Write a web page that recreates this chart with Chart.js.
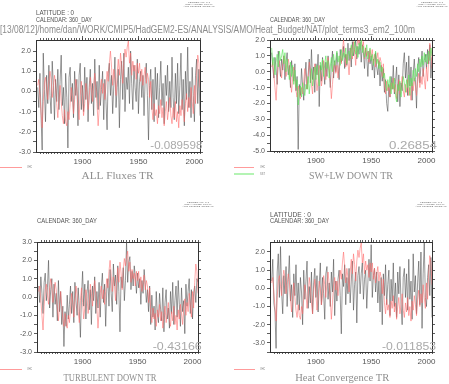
<!DOCTYPE html>
<html>
<head>
<meta charset="utf-8">
<script src="https://cdn.jsdelivr.net/npm/chart.js@4/dist/chart.umd.min.js"></script>
<style>
html, body { margin: 0; padding: 0; background: #fff; }
#page { position: relative; width: 449px; height: 384px; overflow: hidden; }
#page canvas { position: absolute; }
#overlay { left: 0; top: 0; z-index: 2; }
</style>
</head>
<body>
<div id="page"><canvas id="overlay" width="449" height="384"></canvas></div>
<script>
// annual values 1860..2005
const years = Array.from({ length: 146 }, (_, i) => 1860 + i);
const xTickYears = [1900, 1950, 2000];

const ohc = [
  0.3, 0.6, -0.2, -1.0, -1.8, -0.5, 0.4, 0.7, 0.1, -0.4,
  0.5, 1.0, 0.6, -0.3, 0.2, 0.8, 0.4, -0.6, -1.3, -0.4,
  0.3, -0.5, -1.2, -1.6, -0.9, -1.5, -1.7, -1.0, -1.4, -0.6,
  0.2, -0.3, -1.1, -0.4, 0.6, 0.1, -0.8, -1.4, -0.2, 0.5,
  -0.3, -1.2, -0.6, 0.4, 0.0, -0.9, -0.4, 0.7, 0.2, -0.5,
  0.3, 0.9, 0.2, -0.6, -1.7, -0.8, 0.2, 0.6, -0.1, 0.4,
  -0.4, 0.3, 1.0, 0.5, 1.4, 2.0, 1.2, 0.3, 1.1, 0.6,
  -0.2, 0.9, 1.6, 0.8, 1.9, 1.3, 0.4, 1.5, 2.1, 1.7,
  2.2, 2.5, 1.4, 1.9, 0.8, 1.5, 1.0, 1.3, 0.6, 1.4,
  0.9, 1.4, 0.5, 1.1, 0.3, 0.8, 1.2, 0.4, 0.9, 0.6,
  -0.3, 0.5, -0.8, -1.4, -0.6, -1.2, -0.9, -1.6, -0.7, -1.1,
  -0.4, -1.3, -0.8, -1.7, -1.0, -0.5, -1.4, -0.9, -0.3, -1.2,
  -1.6, -0.8, -1.3, -0.5, -1.5, -1.0, -1.8, -0.7, -1.2, -0.4,
  -0.9, -1.5, -0.6, -0.1, -1.0, -0.3, -0.8, 0.2, -0.5, -1.1,
  0.3, -0.6, 0.8, 1.8, 1.4, 0.2
];

const sst = [
  1.5, 0.4, 0.9, -0.2, 0.6, 1.1, 0.3, 1.3, 0.7, 1.0,
  1.4, 0.5, 1.2, 0.0, 0.8, 0.2, -0.5, 0.6, -0.3, 0.4,
  -0.8, 0.1, -1.0, -0.5, -2.1, -1.3, -0.9, -1.6, -0.7, -1.2,
  -1.5, -0.8, -1.1, -0.3, -1.4, -0.6, 0.2, -0.9, -0.4, 0.3,
  -0.5, 0.4, -0.2, -0.9, 0.6, 0.1, 0.8, -0.3, 0.5, 1.0,
  0.2, 0.7, -0.4, 0.3, 0.9, 0.0, 1.1, 0.4, 0.8, 1.3,
  0.6, 1.0, 0.4, 1.4, 0.7, 1.2, 0.9, 1.5, 0.5, 1.1,
  1.3, 0.8, 1.7, 1.0, 1.4, 1.9, 1.1, 1.6, 0.9, 1.8,
  1.4, 2.0, 1.2, 1.6, 0.9, 1.3, 1.7, 0.8, 1.2, 1.5,
  0.7, 1.1, 0.4, 0.9, 1.3, 0.5, 0.8, 0.2, 0.6, 0.0,
  0.3, -0.4, -0.1, -0.8, -1.2, -0.5, -1.0, -0.3, -1.4, -0.7,
  -1.1, -0.4, -1.5, -1.9, -0.8, -1.2, -0.6, -1.6, -0.9, -0.3,
  -0.7, -1.3, -0.5, -1.0, -0.2, -1.5, -0.4, -0.9, 0.1, -0.6,
  0.2, -0.3, 0.5, 0.0, 0.8, 0.3, 1.0, 0.4, 1.2, 0.6,
  1.1, 0.5, 1.3, 0.7, 1.5, 1.0
];

const allFluxes = [
  0.2, -0.8, 0.9, -1.2, -2.9, 1.9, 0.1, -1.5, 0.8, -0.6,
  1.3, -0.2, -1.1, 1.5, 0.3, -1.4, 0.6, -0.5, 1.1, -0.9,
  0.5, 1.8, -0.7, 0.2, -1.6, 0.9, -0.3, -2.8, 0.7, 1.2,
  -0.5, 0.4, -1.3, 1.0, -0.2, 0.6, -1.7, 0.8, 1.4, -0.9,
  0.3, -1.0, 1.2, -0.4, 0.7, -1.5, 0.2, 1.1, -0.6, 0.4,
  -1.2, 1.6, -0.3, 0.5, -0.9, 1.3, -0.7, 0.1, 1.0, -1.4,
  0.6, -0.5, -1.9, 0.9, 1.4, -0.2, 0.8, -1.1, 0.3, 1.7,
  -0.8, 0.2, 1.1, -1.8, 0.6, 1.5, -0.4, 1.9, -1.0, 0.7,
  0.1, 1.2, -0.6, 2.0, 0.4, -0.9, 1.3, 0.2, -0.5, 1.6,
  -1.1, 0.5, 1.0, -0.3, 0.8, -1.2, 0.6, 1.4, -0.2, -2.4,
  0.3, 1.1, -0.9, 0.6, -1.5, 1.2, -0.4, 0.9, -1.3, 0.2,
  1.5, -0.7, 0.4, -1.6, 0.8, -0.2, 1.3, -1.0, 0.5, -0.8,
  1.7, -0.3, -1.4, 0.9, -0.6, 1.4, -1.1, 0.3, 1.9, -0.9,
  0.6, -1.7, 1.0, -0.4, 2.2, -0.8, 0.5, -1.3, 1.2, -0.2,
  -1.5, 0.8, 1.6, -0.6, 1.1, -1.2
];

const swlwDown = [
  1.2, 0.3, -0.4, 0.9, 0.2, -0.8, 1.3, 0.5, -0.3, 0.8,
  0.1, 1.0, -0.5, 0.6, 1.2, -0.2, 0.4, -1.0, 0.7, 0.0,
  -0.6, 0.5, -1.2, -0.3, -4.9, -0.8, -1.5, 0.2, -0.9, -1.8,
  -0.4, 0.6, -1.1, -0.2, 0.8, -0.7, 1.4, -0.5, 0.3, -1.3,
  0.5, -0.2, 1.1, -2.2, 0.4, -0.6, 0.9, 0.1, -0.8, 0.6,
  -0.3, 1.0, 0.2, -1.0, 0.5, 1.3, -0.4, 0.7, 0.0, 1.2,
  0.3, -0.5, 1.4, 0.6, 0.9, 1.6, 0.2, 1.1, 0.4, 1.8,
  0.7, 1.5, 0.3, 1.9, 1.0, 1.4, 2.0, 0.8, 1.6, 1.1,
  1.9, 0.6, 1.7, 1.2, 0.2, 1.5, 0.9, -0.3, 1.3, 0.5,
  1.0, 0.1, 0.8, -0.4, 1.2, 0.3, -0.2, 0.7, -0.9, 0.4,
  -0.6, 0.2, -1.3, -0.5, -2.0, -2.5, -0.8, -1.6, -0.3, -1.1,
  0.4, -1.4, -0.6, 0.3, -1.9, -0.2, -2.2, -0.7, -1.2, 0.5,
  1.2, -0.4, 0.6, -1.5, 1.0, -0.9, 0.3, -1.8, -0.1, 0.8,
  -0.5, -2.3, 0.2, 0.9, -0.7, 0.4, 1.3, -0.3, 0.7, 1.1,
  0.2, 1.4, 0.5, 1.7, -0.4, 0.9
];

const turbDown = [
  0.6, -0.3, 1.1, 0.2, -0.9, 0.8, 1.3, -0.2, 0.5, 2.0,
  -0.6, 0.4, 1.0, -1.1, 0.7, -0.4, 0.2, -1.3, 0.9, -0.8,
  0.3, -1.5, -0.5, -2.7, -0.8, -1.6, 0.1, -1.2, -0.4, 0.6,
  -0.9, 0.3, -1.4, 0.8, -0.2, -1.0, 0.5, -0.6, -2.2, 0.1,
  1.4, -0.5, 0.7, -1.2, 0.2, 0.9, -0.7, 0.4, -1.5, 0.6,
  -0.2, 1.1, -0.9, 0.3, -0.6, 0.8, -1.1, 0.5, 1.3, -0.3,
  0.7, -1.6, 0.4, 1.0, -0.5, 1.5, 0.2, -0.8, 1.8, 0.6,
  1.2, -0.4, 1.7, 0.3, -1.9, 1.1, 0.5, 1.6, -0.2, 0.9,
  3.0, 0.8, 1.9, 2.2, 0.4, 1.4, 0.6, 1.7, 1.1, 0.2,
  1.3, 0.5, 1.0, -0.4, 0.9, 0.2, 1.5, 0.7, -0.3, 0.4,
  -0.8, 0.6, -1.5, 0.1, -1.1, -0.5, -1.8, 0.3, -0.9, -1.4,
  0.2, -0.7, -1.3, 0.5, -1.9, -0.3, 0.4, -1.2, -0.6, -1.7,
  0.3, -0.9, 0.8, -1.5, -0.2, 0.6, -1.1, 0.9, -0.4, -1.6,
  0.5, -0.8, -0.2, -2.0, 0.7, -0.5, 0.3, 1.0, -0.9, 0.4,
  -1.2, 0.2, 0.6, -0.3, 1.0, 0.8
];

const heatConv = [
  0.4, 1.6, -0.8, -1.3, -3.3, 0.9, 1.9, -0.5, 2.3, -0.2,
  -1.4, 0.7, -0.3, 1.2, -1.0, 0.5, 1.8, -0.7, 0.2, -1.6,
  0.8, -0.4, 1.3, -0.9, 0.3, -1.2, 0.6, -0.2, -2.0, 1.0,
  -0.6, 0.4, 1.5, -1.1, 0.1, -0.8, 0.9, -1.4, 0.3, 1.1,
  -0.5, 0.7, -1.3, 0.2, 1.4, -0.9, 0.6, -0.3, -1.7, 0.8,
  1.2, -0.6, 0.3, -1.0, 0.9, -0.2, 1.6, -1.5, 0.4, -0.7,
  0.5, 1.0, -0.4, -2.5, 0.8, 0.1, 1.3, -0.9, 0.6, -0.3,
  1.1, -0.8, 0.4, 1.5, -1.2, 0.2, 0.9, -1.9, 0.7, 1.2,
  -0.3, 0.8, 1.4, -0.6, 0.5, 1.0, -1.1, 0.3, 1.6, 0.4,
  2.4, -0.5, 0.7, 1.1, -0.2, 0.9, -0.8, 0.4, -1.3, 0.6,
  -2.0, 0.8, -0.4, 1.3, -0.9, 0.2, 1.0, -1.5, 0.5, -0.7,
  1.4, -1.0, 0.3, -1.6, 0.9, -0.3, 1.2, -0.8, -2.0, 0.6,
  1.1, -0.5, 0.8, -1.2, 1.6, -0.6, 0.4, -1.7, 1.9, -0.2,
  0.7, -1.4, 0.3, 1.5, -0.9, 2.0, -2.2, 0.8, 2.5, -0.5,
  -1.0, 0.6, 1.3, -0.4, 1.7, -1.6
];

const page = document.getElementById('page');
const SANS = '"Liberation Sans", Arial, sans-serif';
const SERIF = '"Liberation Serif", "DejaVu Serif", serif';
const AXIS = '#333';
const DARK = 'rgba(75,75,75,0.75)';
const RED = 'rgba(255,105,105,0.75)';
const GREEN = 'rgba(90,230,90,0.85)';

const isStep = (v, s) => Math.abs(v / s - Math.round(v / s)) < 1e-6;

function makePanel(p) {
  const cv = document.createElement('canvas');
  cv.width = p.w; cv.height = p.h;
  cv.style.left = p.left + 'px'; cv.style.top = p.top + 'px';
  cv.style.width = p.w + 'px'; cv.style.height = p.h + 'px';
  page.insertBefore(cv, page.firstChild);

  const pts = vals => vals.map((v, i) => ({ x: years[i], y: v }));
  const datasets = [];
  if (p.sst) datasets.push({ label: 'SST', data: pts(p.sst), borderColor: GREEN });
  datasets.push({ label: 'OHC', data: pts(ohc), borderColor: RED });
  datasets.push({ label: p.name, data: pts(p.black), borderColor: DARK });

  const leftW = p.area.l - p.left;
  const bottomH = p.top + p.h - p.area.b;

  const xAxis = (pos, step, len, labels, fit) => ({
    type: 'linear', axis: 'x', position: pos, min: 1858.5, max: 2005,
    afterBuildTicks: s => { s.ticks = s.ticks.filter(t => isStep(t.value, step)); },
    ticks: {
      stepSize: step, autoSkip: false, maxRotation: 0, padding: 3,
      font: { size: 8, family: SANS }, color: '#555',
      callback: v => (labels && xTickYears.some(y => Math.abs(y - v) < 1e-6)) ? String(Math.round(v)) : ''
    },
    grid: { drawOnChartArea: false, tickLength: len, tickColor: AXIS, tickWidth: 0.8 },
    border: { display: true, color: AXIS, width: 1 },
    afterFit: s => { s.height = fit; s.paddingLeft = 0; s.paddingRight = 0; }
  });

  const yAxis = (pos, labels, fit) => ({
    type: 'linear', axis: 'y', position: pos, min: p.yMin, max: p.yMax,
    afterBuildTicks: s => { s.ticks = s.ticks.filter(t => isStep(t.value, 0.5)); },
    ticks: {
      stepSize: 0.5, autoSkip: false, padding: 2,
      font: { size: 7, family: SANS }, color: '#555',
      callback: v => (labels && isStep(v, 1)) ? (Math.round(v)).toFixed(1) : ''
    },
    grid: { drawOnChartArea: false, tickLength: 3, tickColor: AXIS, tickWidth: 0.8 },
    border: { display: true, color: AXIS, width: 1 },
    afterFit: s => { s.width = fit; s.paddingTop = 0; s.paddingBottom = 0; }
  });

  new Chart(cv, {
    type: 'line',
    data: { datasets },
    options: {
      responsive: false, animation: false, devicePixelRatio: 1,
      layout: { padding: { top: p.area.t - p.top, right: p.left + p.w - p.area.r, left: 0, bottom: 0 } },
      plugins: { legend: { display: false }, tooltip: { enabled: false } },
      elements: { point: { radius: 0 }, line: { borderWidth: 0.75, tension: 0 } },
      scales: {
        x: xAxis('bottom', 2.5, 2, true, bottomH),
        xt: xAxis('top', 2.5, 2, false, 0),
        xm: xAxis('top', 50, 4, false, 0),
        y: yAxis('left', true, leftW),
        yr: yAxis('right', false, 0)
      }
    }
  });
}

const panels = [
  { name: 'ALL Fluxes', black: allFluxes, left: 0, top: 30, w: 225, h: 140,
    area: { l: 36, t: 40, b: 152, r: 200 }, yMin: -3, yMax: 2.55 },
  { name: 'SW+LW DOWN', black: swlwDown, sst: sst, left: 225, top: 30, w: 224, h: 140,
    area: { l: 270, t: 40, b: 151, r: 432 }, yMin: -5, yMax: 2.0 },
  { name: 'TURBULENT DOWN', black: turbDown, left: 0, top: 230, w: 225, h: 140,
    area: { l: 37, t: 242, b: 352, r: 198 }, yMin: -3, yMax: 3 },
  { name: 'Heat Convergence', black: heatConv, left: 225, top: 230, w: 224, h: 140,
    area: { l: 270, t: 242, b: 352, r: 432 }, yMin: -3.5, yMax: 2.55 }
];
panels.forEach(makePanel);

// annotation text drawn on an overlay canvas, stretched to a target width
const ctx = document.getElementById('overlay').getContext('2d');
function text(txt, x, y, size, color, width, align, family, sy) {
  ctx.save();
  ctx.font = size + 'px ' + (family || SANS);
  ctx.fillStyle = color;
  ctx.textAlign = align || 'left';
  ctx.textBaseline = 'middle';
  const w = ctx.measureText(txt).width;
  ctx.translate(x, y);
  ctx.scale(width ? width / w : 1, sy || 1);
  ctx.fillText(txt, 0, 0);
  ctx.restore();
}

function legLine(x, y, w, color) {
  ctx.save();
  ctx.strokeStyle = color;
  ctx.lineWidth = 1;
  ctx.beginPath();
  ctx.moveTo(x, y + 0.5);
  ctx.lineTo(x + w, y + 0.5);
  ctx.stroke();
  ctx.restore();
}

function ferret(cx, y0) {
  text('FERRET Ver. 6.1', cx, y0, 6, '#666', 22, 'center', SANS, 0.35);
  text('NOAA/PMEL TMAP', cx, y0 + 2, 6, '#666', 27, 'center', SANS, 0.35);
  text('Aug 13 2012 18:13:40', cx, y0 + 4, 6, '#666', 31, 'center', SANS, 0.35);
}

// headers
text('LATITUDE : 0', 36, 12.7, 8, '#555', 38, 'left');
text('CALENDAR: 360_DAY', 36, 19.3, 8, '#555', 56, 'left');
text('[13/08/12]/home/dan/WORK/CMIP5/HadGEM2-ES/ANALYSIS/AMO/Heat_Budget/NAT/plot_terms3_em2_100m',
  0, 30, 10, '#8c8c8c', 415, 'left');
text('CALENDAR: 360_DAY', 270, 19.3, 8, '#555', 55, 'left');
text('CALENDAR: 360_DAY', 37, 220.7, 8, '#555', 60, 'left');
text('LATITUDE : 0', 270, 214.3, 8, '#555', 41, 'left');
text('CALENDAR: 360_DAY', 270, 220.7, 8, '#555', 59, 'left');
ferret(199, 2);
ferret(432, 2);
ferret(198, 202);
ferret(431, 202);

// correlation values
text('-0.089598', 202.3, 146.7, 10, '#aaa', 52, 'right');
text('0.26854', 437, 146.7, 10, '#aaa', 48, 'right');
text('-0.43166', 201.7, 347.7, 10, '#aaa', 49, 'right');
text('-0.011853', 436, 347.7, 10, '#aaa', 54, 'right');

// titles
text('ALL Fluxes TR', 117.5, 176.7, 10, '#8e8e8e', 72, 'center', SERIF);
text('SW+LW DOWN TR', 351, 176.7, 10, '#8e8e8e', 84, 'center', SERIF);
text('TURBULENT DOWN TR', 110, 378.3, 10, '#8e8e8e', 93, 'center', SERIF);
text('Heat Convergence TR', 342.2, 378.3, 10, '#8e8e8e', 94, 'center', SERIF);

// legends
legLine(0, 167, 22, 'rgba(255,130,130,0.8)');
text('OHC', 27, 167.5, 6, '#777', 5, 'left', SANS, 0.5);
legLine(234, 167, 20, 'rgba(255,130,130,0.8)');
text('OHC', 260, 167.5, 6, '#777', 5, 'left', SANS, 0.5);
legLine(234, 173.5, 20, 'rgba(90,230,90,0.9)');
text('SST', 260, 174, 6, '#777', 5, 'left', SANS, 0.5);
legLine(0, 369, 22, 'rgba(255,130,130,0.8)');
text('OHC', 27, 369.5, 6, '#777', 5, 'left', SANS, 0.5);
legLine(234, 369, 21, 'rgba(255,130,130,0.8)');
text('OHC', 260, 369.5, 6, '#777', 5, 'left', SANS, 0.5);
</script>
</body>
</html>
